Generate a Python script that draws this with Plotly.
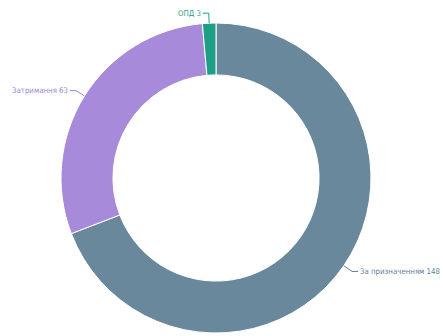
import math
import plotly.graph_objects as go

labels = ["За призначенням", "Затримання", "ОПД"]
values = [148, 63, 3]
colors = ["#6a889c", "#a78ad9", "#1f9e86"]
text_colors = ["#5f7d92", "#9b7fd4", "#1f9e86"]

W, H = 443, 336
dom_x = [61 / W, 371 / W]
dom_y = [1 - 333 / H, 1 - 23 / H]
cx = (dom_x[0] + dom_x[1]) / 2 * W
cy = H - (dom_y[0] + dom_y[1]) / 2 * H
R = min((dom_x[1] - dom_x[0]) * W, (dom_y[1] - dom_y[0]) * H) / 2

fig = go.Figure(go.Pie(
    labels=labels, values=values, hole=0.665, sort=False,
    direction="clockwise", rotation=0,
    marker=dict(colors=colors, line=dict(color="white", width=1)),
    textinfo="none", hoverinfo="label+value",
    domain=dict(x=dom_x, y=dom_y), showlegend=False,
))

total = sum(values)
cum = 0
shapes, annotations = [], []
for lab, v, tc in zip(labels, values, text_colors):
    mid = (cum + v / 2) / total * 2 * math.pi
    cum += v
    sx, sy = math.sin(mid), -math.cos(mid)
    ex, ey = cx + R * sx, cy + R * sy
    kx, ky = cx + (R + 10) * sx, cy + (R + 10) * sy
    side = 1 if sx >= 0 else -1
    hx = kx + side * 6
    pts = [(ex, ey), (kx, ky), (hx, ky)]
    for (x0, y0), (x1, y1) in zip(pts[:-1], pts[1:]):
        shapes.append(dict(type="line", xref="paper", yref="paper",
                           x0=x0 / W, y0=1 - y0 / H, x1=x1 / W, y1=1 - y1 / H,
                           line=dict(color=tc, width=1)))
    annotations.append(dict(
        x=hx / W, y=1 - ky / H, xref="paper", yref="paper",
        text=f"{lab} {v}", showarrow=False,
        xanchor="left" if side > 0 else "right", yanchor="middle",
        font=dict(family="DejaVu Sans Condensed", size=7.8, color=tc),
    ))

fig.update_layout(
    width=W, height=H, margin=dict(l=0, r=0, t=0, b=0),
    paper_bgcolor="white", plot_bgcolor="white",
    shapes=shapes, annotations=annotations,
)
fig.write_html("out.html")
